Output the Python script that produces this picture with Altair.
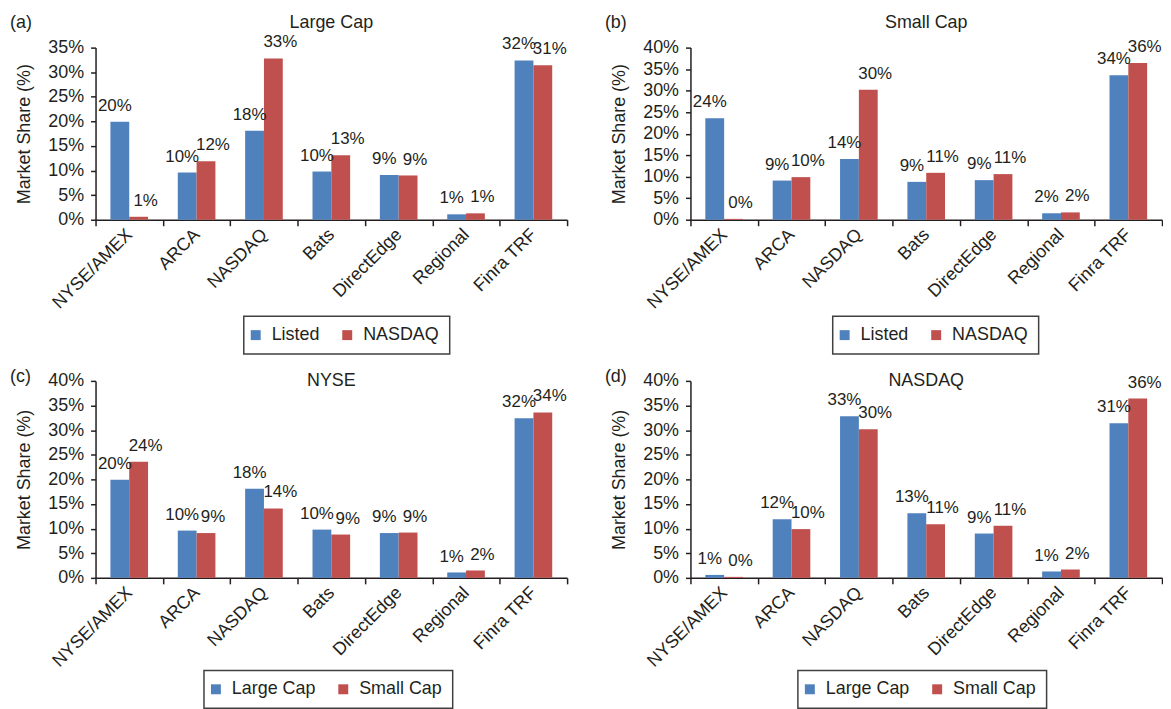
import altair as alt
import pandas as pd

# ---- data ----
exchanges = ["NYSE/AMEX", "ARCA", "NASDAQ", "Bats", "DirectEdge", "Regional", "Finra TRF"]
large_listed = [19.9, 9.6, 18.1, 9.8, 9.1, 1.1, 32.4]
large_nasdaq = [0.6, 11.9, 32.8, 13.1, 9.0, 1.3, 31.4]
small_listed = [23.6, 9.1, 14.1, 8.8, 9.2, 1.5, 33.6]
small_nasdaq = [0.2, 9.9, 30.2, 10.9, 10.6, 1.7, 36.4]

listing_series = ["Listed", "NASDAQ"]
cap_series = ["Large Cap", "Small Cap"]
panel_titles = ["Large Cap", "Small Cap", "NYSE", "NASDAQ"]
panel_tags = ["(a)", "(b)", "(c)", "(d)"]
y_max = [35, 40, 40, 40]

colors = ["#4F81BD", "#C0504D"]
FONT = "Liberation Sans"
INK = "#231f20"
W = 474
H_TOP = 173
H_BOT = 198


def frame(names, first, second):
    rows = []
    for i, ex in enumerate(exchanges):
        for name, vals in zip(names, (first, second)):
            v = vals[i]
            rows.append({"exchange": ex, "series": name, "value": v,
                         "label": f"{int(v + 0.5)}%"})
    return pd.DataFrame(rows)


def panel(tag, title, names, first, second, ymax, height, title_y, tag_y, lx, ly):
    df = frame(names, first, second)
    base = alt.Chart(df).encode(
        x=alt.X("exchange:N", sort=exchanges,
                scale=alt.Scale(paddingInner=0, paddingOuter=0),
                axis=alt.Axis(title=None, labelAngle=315, labelAlign="right",
                              labelBaseline="middle", tickBand="extent", tickSize=6,
                              labelPadding=6, labelFontSize=18, labelFont=FONT,
                              labelColor=INK, domainColor=INK, tickColor=INK,
                              domainWidth=1.5, tickWidth=1.5, grid=False,
                              labelOverlap=False)),
        xOffset=alt.XOffset("series:N", sort=names,
                            scale=alt.Scale(paddingInner=0, paddingOuter=0.79)),
        y=alt.Y("value:Q", scale=alt.Scale(domain=[0, ymax], nice=False, zero=True),
                axis=alt.Axis(values=list(range(0, ymax + 1, 5)),
                              labelExpr="datum.value + '%'",
                              title="Market Share (%)", titleX=-62, titleY=height / 2,
                              titleFontSize=18, titleFont=FONT, titleFontWeight="normal",
                              titleColor=INK, labelFontSize=18, labelFont=FONT,
                              labelColor=INK, tickSize=5, labelPadding=7,
                              domainColor=INK, tickColor=INK, domainWidth=1.5,
                              tickWidth=1.5, grid=False, labelOverlap=False)),
    )
    bars = base.mark_bar().encode(
        color=alt.Color("series:N", sort=names,
                        scale=alt.Scale(domain=names, range=colors),
                        legend=alt.Legend(title=None, orient="none", legendX=lx, legendY=ly,
                                          direction="horizontal", symbolType="square",
                                          symbolSize=100, symbolStrokeWidth=0,
                                          symbolOffset=-7,
                                          labelFontSize=18, labelFont=FONT,
                                          labelColor=INK, labelOffset=7,
                                          columnPadding=22, padding=10,
                                          strokeColor="#404040", fillColor="white"))
    )
    first_labels = base.mark_text(baseline="alphabetic", dy=-11, dx=-5, fontSize=17,
                                  font=FONT, color=INK).encode(
        text="label:N").transform_filter(alt.datum.series == names[0])
    second_labels = base.mark_text(baseline="alphabetic", dy=-11, dx=7, fontSize=17,
                                   font=FONT, color=INK).encode(
        text="label:N").transform_filter(alt.datum.series == names[1])
    title_mark = alt.Chart(pd.DataFrame({"t": [title]})).mark_text(
        align="center", baseline="middle", fontSize=18, font=FONT, color=INK
    ).encode(text="t:N", x=alt.value(W / 2), y=alt.value(title_y))
    tag_mark = alt.Chart(pd.DataFrame({"t": [tag]})).mark_text(
        align="left", baseline="middle", fontSize=18, font=FONT, color=INK
    ).encode(text="t:N", x=alt.value(-86), y=alt.value(tag_y))
    return alt.layer(bars, first_labels, second_labels, title_mark, tag_mark).properties(
        width=W, height=height)


pa = panel(panel_tags[0], panel_titles[0], listing_series, large_listed, large_nasdaq,
           y_max[0], H_TOP, -25, -25, 149, 270)
pb = panel(panel_tags[1], panel_titles[1], listing_series, small_listed, small_nasdaq,
           y_max[1], H_TOP, -25, -25, 143, 270)
pc = panel(panel_tags[2], panel_titles[2], cap_series, large_listed, small_listed,
           y_max[2], H_BOT, 0, -4, 109, 291)
pd_ = panel(panel_tags[3], panel_titles[3], cap_series, large_nasdaq, small_nasdaq,
            y_max[3], H_BOT, 0, -4, 108, 291)

chart = (
    alt.concat(pa, pb, pc, pd_, columns=2, spacing={"row": 162, "column": 124},
               bounds="flush")
    .resolve_scale(color="independent", x="independent", y="independent",
                   xOffset="independent")
    .resolve_legend(color="independent")
    .resolve_axis(x="independent", y="independent")
    .properties(padding={"left": 2, "top": 4, "right": 0, "bottom": 0})
    .configure_view(strokeWidth=0)
    .configure_legend(strokeWidth=1.5)
)

chart.save("out.html", embed_options={"renderer": "svg", "actions": False})
